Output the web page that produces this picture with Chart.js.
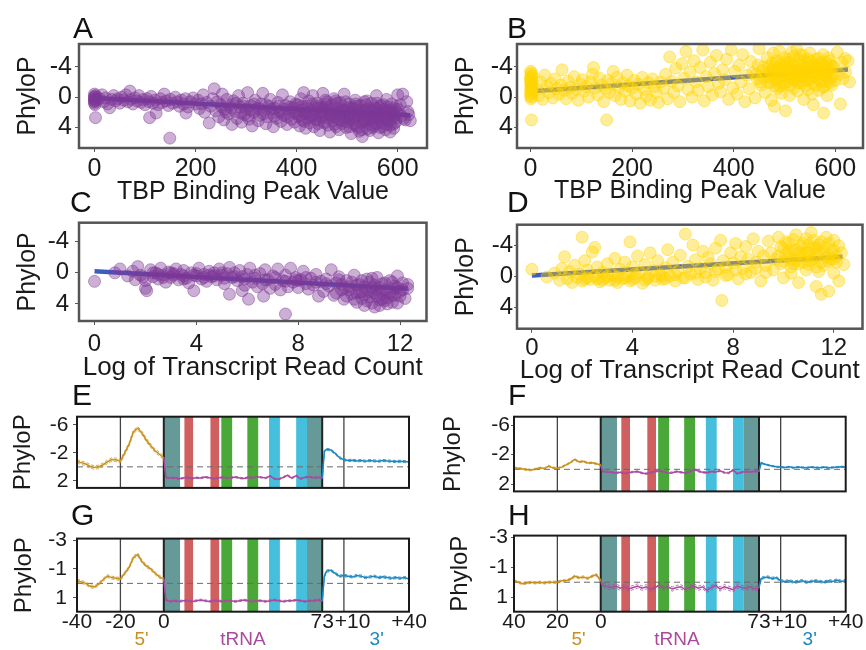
<!DOCTYPE html>
<html><head><meta charset="utf-8">
<script src="https://cdn.jsdelivr.net/npm/chart.js@4.4.1/dist/chart.umd.min.js"></script>
<style>
html,body{margin:0;padding:0;background:#fff;}
#wrap{position:relative;width:866px;height:650px;overflow:hidden;font-family:"Liberation Sans",Arial,sans-serif;}
canvas{position:absolute;}
.lbl{position:absolute;font-size:30px;line-height:30px;color:#111;}
.reg{position:absolute;font-size:19px;line-height:20px;transform:translateX(-50%);white-space:nowrap;}
</style></head><body><div id="wrap">
<canvas id="cA" width="433" height="207" style="left:0;top:0"></canvas>
<canvas id="cB" width="433" height="206" style="left:433px;top:0"></canvas>
<canvas id="cC" width="433" height="188" style="left:0;top:195px"></canvas>
<canvas id="cD" width="433" height="191" style="left:433px;top:195px"></canvas>
<canvas id="cE" width="433" height="110" style="left:0;top:395px"></canvas>
<canvas id="cF" width="433" height="110" style="left:433px;top:395px"></canvas>
<canvas id="cG" width="433" height="112" style="left:0;top:520px"></canvas>
<canvas id="cH" width="433" height="112" style="left:433px;top:520px"></canvas>
<div class="lbl" style="left:73px;top:13px">A</div>
<div class="lbl" style="left:507px;top:13px">B</div>
<div class="lbl" style="left:70px;top:187px">C</div>
<div class="lbl" style="left:507px;top:187px">D</div>
<div class="lbl" style="left:72px;top:380px">E</div>
<div class="lbl" style="left:508px;top:380px">F</div>
<div class="lbl" style="left:71px;top:500px">G</div>
<div class="lbl" style="left:508px;top:500px">H</div>
<div id="regions"></div>
</div>
<script>
// ---------------- tick labels / categories ----------------
const peakTicks = [0, 200, 400, 600];
const readTicks = [0, 4, 8, 12];
const phyloTicksScatter = [-4, 0, 4];
const phyloTicksEF = [-6, -2, 2];
const phyloTicksGH = [-3, -1, 1];
const posTicks = [-40, -20, 0, 73, 83, 113];
const posLabelsG = ['-40', '-20', '0', '73', '   +10', '+40'];
const posLabelsH = ['40', '20', '0', '73', '   +10', '+40'];
const regionNames = ["5'", "tRNA", "3'"];

// tRNA secondary-structure stems (positions)
const stemFrom = [0, 9.5, 21.5, 26.5, 38.5, 48.5, 61, 66];
const stemTo   = [7.5, 13.5, 25.5, 31.5, 43.5, 53.5, 66, 73];
const stemKind = ['acceptor', 'D', 'D', 'anticodon', 'anticodon', 'T', 'T', 'acceptor'];
const sepPos = [-20, 0, 73, 83];

// ---------------- scatter data: [x, PhyloP] ----------------
const peakVsPhyloA = [
[0,-0.4],[0,-0.1],[0,0.2],[0,0.5],[0,0.8],[0,0.3],[0,0],[0,0.6],[2,-0.2],[3,0.4],[1,1.0],[4,0.1],[2,2.7],
[10,0.2],[15,-0.3],[18,0.6],[22,0.1],[26,0.9],[30,1.4],[34,0.3],[38,-0.2],[42,0.5],[46,0.2],[50,0.8],[54,0.0],[58,0.4],[62,-0.3],[66,0.6],[70,-0.8],[72,0.3],[76,0.9],[80,0.1],[84,0.5],[88,-0.2],[92,0.7],[96,0.3],[100,1.0],[104,0.2],[108,0.6],[109,2.7],[112,-0.1],[116,0.8],[120,0.4],[122,2.1],[126,1.0],[130,0.2],[134,0.7],[138,-0.4],[142,0.5],[146,1.1],[149,5.4],[150,0.3],[155,0.8],[160,0.0],[164,0.6],[168,1.2],[172,0.4],[176,0.9],[180,0.2],[181,2.1],[185,1.3],[190,0.6],[195,0.1],[200,0.9],
[205,0.4],[208,1.5],[212,0.9],[215,-0.3],[218,2.0],[222,0.7],[227,3.4],[230,1.2],[234,0.2],[237,-1.1],[240,1.8],[243,0.6],[246,2.6],[250,1.0],[253,-0.4],[256,3.0],[258,1.6],[262,0.3],[265,2.2],[268,1.0],[272,3.6],[275,0.5],[278,1.9],[282,2.8],[285,-0.2],[288,1.3],[291,3.3],[294,0.8],[297,2.3],[300,1.6],[303,-0.6],[306,2.9],[309,1.1],[312,3.8],[315,2.0],[318,0.4],[321,1.5],[324,3.1],[327,2.4],[330,0.9],[333,-0.5],[336,1.8],[339,3.5],[342,2.6],[345,1.2],[348,0.3],[351,2.1],[354,3.9],[357,1.5],[360,2.8],[363,0.7],[366,1.9],[369,3.2],[372,-0.3],[375,2.4],[378,1.1],[381,3.6],[384,2.0],[387,0.6],[390,2.9],[393,1.4],[396,3.3],[399,2.2],
[402,1.0],[404,2.6],[406,3.8],[408,0.2],[410,1.7],[412,3.0],[414,-0.6],[416,2.2],[418,4.1],[420,1.2],[422,2.8],[424,0.5],[426,3.4],[428,1.8],[430,2.5],[432,-0.2],[434,3.9],[436,1.4],[438,2.9],[440,0.8],[442,3.5],[444,2.0],[446,4.4],[448,1.1],[450,2.7],[452,-0.5],[454,3.2],[456,1.6],[458,2.3],[460,0.6],[462,3.7],[464,1.9],[466,4.6],[468,2.5],[470,1.0],[472,3.1],[474,0.2],[476,2.1],[478,3.9],[480,1.5],[482,2.9],[484,4.3],[486,0.7],[488,2.4],[490,3.5],[492,1.2],[494,-0.4],[496,2.8],[498,4.0],[500,1.8],[502,3.3],[504,0.9],[506,2.2],[508,4.8],[510,1.4],[512,3.0],[514,2.6],[516,0.4],[518,3.8],[520,1.9],[522,2.4],[524,4.5],[526,1.1],[528,3.4],[530,5.2],[532,2.0],[534,0.6],[536,3.1],[538,2.7],[540,4.2],[542,1.5],[544,3.6],[546,2.3],[548,0.8],[550,4.0],[552,1.7],[554,2.9],[556,3.5],[558,-0.2],[560,2.4],[562,4.7],[564,1.3],[566,3.2],[568,2.0],[570,3.9],[572,1.0],[574,2.6],[576,4.3],[578,0.3],[580,3.0],[582,1.8],[584,2.5],[586,3.7],[588,0.9],[590,2.2],[592,4.1],[594,1.5],[596,3.3],[598,2.7],[600,-0.3],[600,1.6],
[445,1.5],[465,2.2],[485,1.9],[505,2.5],[515,1.6],[525,2.2],[535,1.7],[545,2.8],[555,2.1],[565,2.6],[575,1.9],[585,2.0],[595,2.4],[455,1.3],[475,2.6],[495,1.7],[535,3.0],[555,1.4],
[605,1.0],[610,-0.4],[612,2.8],[615,3.0],[618,0.6],[620,1.9],[622,2.3],[625,3.1],[608,2.5],
[403,1.8],[407,2.4],[411,1.2],[415,3.2],[419,2.0],[423,1.5],[427,2.6],[431,0.9],[435,2.2],[439,3.0],[443,1.3],[447,2.5],[451,1.9],[455,3.4],[459,1.0],[463,2.8],[467,1.6],[471,2.3],[475,3.6],[479,0.8],[483,2.0],[487,3.1],[491,1.7],[495,2.5],[499,3.2],[503,1.4],[507,2.9],[511,2.1],[515,3.6],[519,1.2],[523,2.7],[527,1.8],[531,3.3],[533,2.5],[537,1.0],[541,2.2],[543,3.0],[547,1.9],[551,2.7],[553,3.8],[557,1.5],[561,2.9],[563,2.2],[567,1.1],[569,3.4],[571,2.4],[573,1.6],[577,2.8],[579,3.6],[581,1.3],[583,2.2],[587,3.0],[589,1.8],[591,2.6],[593,3.5],[597,1.2],[599,2.0],[497,0.6],[517,0.9],[539,0.5],[559,0.8],[457,0.4],[477,0.5],[521,4.0],[545,4.4],[505,3.9],[565,4.0],[585,4.6],[529,4.3],
[252,1.3],[260,2.0],[270,1.4],[280,0.8],[290,2.1],[296,1.2],[304,2.5],[310,1.7],[316,0.9],[326,1.5],[334,2.2],[340,1.0],[350,1.6],[356,2.5],[364,1.2],[370,2.1],[376,1.6],[382,2.6],[388,1.3],[394,2.0],[398,0.9]
];
const peakVsPhyloB = [
[0,-3.4],[1,-3.0],[2,-2.6],[3,-2.2],[0,-1.8],[1,-1.4],[2,-1.0],[3,-0.6],[0,-0.2],[1,0.2],[2,-3.2],[3,-2.8],[0,-2.4],[1,-2.0],[2,-1.6],[3,-1.2],[0,-0.8],[1,-0.4],[2,0.0],[3,-1.9],[0,-2.5],[1,-1.1],[2,3.0],
[12,-1.0],[16,-0.2],[20,-2.0],[24,0.3],[28,-2.9],[32,-1.4],[36,-0.6],[40,-1.8],[44,0.1],[48,-2.4],[52,-1.1],[56,-0.4],[60,-1.6],[62,-3.6],[66,-0.9],[70,0.2],[74,-2.1],[78,-1.3],[82,-0.5],[86,-2.7],[90,-1.0],[94,0.4],[98,-1.7],[102,-2.3],[106,-0.8],[110,-1.4],[114,0.0],[118,-2.0],[122,-3.0],[124,-3.9],[128,-1.2],[132,-0.3],[136,-2.5],[140,-1.6],[144,0.6],[148,-1.1],[150,3.0],[152,-2.2],[156,-0.6],[160,-1.8],[163,-3.4],[166,-0.2],[170,-2.6],[174,-1.3],[178,0.3],[182,-1.9],[186,-0.8],[190,-2.9],[192,-1.5],[196,0.5],[200,-1.2],[204,-2.2],[208,-0.4],[212,-1.7],[216,0.8],[220,-2.6],[224,-1.0],[228,-0.1],[232,-1.9],[236,0.4],[240,-2.4],[244,-1.4],[248,-0.6],[252,0.7],[256,-2.0],
[262,-1.2],[266,-3.0],[270,0.2],[274,-5.3],[278,-2.1],[282,-0.6],[286,-3.8],[290,-1.5],[294,0.6],[298,-4.4],[302,-2.5],[306,-6.0],[310,-1.0],[314,-3.3],[318,0.0],[322,-4.8],[326,-2.0],[330,-0.9],[334,-3.9],[339,-6.2],[342,0.5],[346,-2.7],[350,-1.4],[354,-4.6],[358,-0.3],[362,-3.1],[366,-5.5],[370,-1.8],[374,-0.7],[378,-3.6],[382,-2.3],[386,-5.0],[390,0.3],[395,-6.2],[398,-1.2],[402,-3.4],[406,-0.4],[410,-4.2],[414,-2.0],[418,-5.6],[422,0.6],[426,-2.9],[430,-1.1],[434,-4.7],[438,-3.2],[442,0.1],[446,-2.4],[450,-6.4],[454,-1.6],[458,-4.0],[462,-0.6],
[464,-3.0],[466,-5.2],[468,-1.9],[470,-4.1],[472,-2.6],[474,0.4],[476,-3.6],[478,-5.8],[480,1.2],[482,-2.2],[484,-4.5],[486,-1.1],[488,-3.3],[490,-6.0],[492,-2.8],[494,-0.5],[496,-4.0],[498,-1.6],[500,-5.2],[502,1.8],[504,-3.0],[506,-2.0],[508,-4.6],[510,-0.2],[512,-3.6],[514,-5.9],[516,-2.4],[518,-1.2],[520,-4.2],[522,-3.0],[524,-6.3],[526,-0.8],[528,-2.6],[530,-4.9],[532,-3.5],[534,-1.8],[536,-5.5],[538,0.3],[540,-3.9],[542,-2.2],[544,-4.5],[546,-1.0],[548,-3.2],[550,-5.8],[552,-2.7],[554,-0.4],[556,-4.1],[557,1.0],[558,-3.4],[560,-1.6],[562,-5.0],[564,-2.5],[566,-3.8],[568,-0.9],[570,-4.6],[572,-2.0],[574,-3.1],[576,-5.6],[577,2.1],[578,-1.4],[580,-4.0],[582,-2.8],[584,-0.2],[586,-3.5],[588,-4.8],[590,-1.9],[592,-2.6],[594,-3.9],
[505,-3.3],[515,-2.9],[525,-3.6],[535,-2.8],[545,-3.4],[555,-2.5],[565,-3.1],[520,-2.2],[540,-3.9],[560,-3.5],[530,-2.6],[550,-4.0],[510,-3.8],[570,-3.3],[500,-2.9],[490,-3.6],
[600,-2.2],[604,-5.9],[608,-3.0],[610,0.9],[612,-4.6],[615,-2.4],[619,-5.1],[620,-3.3],[625,-4.8],[628,-2.0],
[471,-3.4],[473,-2.0],[475,-4.5],[477,-2.9],[479,-3.9],[481,-1.5],[483,-3.1],[485,-4.8],[487,-2.4],[489,-3.8],[491,-1.4],[493,-4.3],[495,-2.9],[497,-3.6],[499,-1.9],[501,-4.6],[503,-3.9],[507,-2.6],[509,-5.0],[511,-1.6],[513,-4.4],[517,-3.2],[519,-5.4],[521,-2.6],[523,-4.0],[527,-1.9],[529,-3.4],[531,-5.6],[533,-2.2],[535,-4.2],[537,-3.0],[539,-4.8],[541,-1.5],[543,-3.7],[547,-5.0],[549,-2.3],[551,-3.3],[553,-4.7],[555,-1.9],[559,-4.3],[561,-2.8],[563,-3.9],[567,-5.1],[569,-2.3],[571,-3.7],[573,-4.4],[575,-1.3],[579,-2.9],[581,-4.6],[583,-3.3],[585,-2.0],[587,-5.2],[589,-3.7],[591,-4.2],[593,-1.6],[595,-3.0],[597,-4.0],[460,-2.6],[456,-3.5],[452,-2.0],[448,-4.2],[444,-3.0]
];
const readVsPhyloC = [
[0,1.1],[0.8,0.0],[1.0,-0.5],[1.3,0.4],[1.5,-0.2],[1.6,0.9],[1.7,-0.8],[1.8,0.3],[2.0,1.0],[2.05,2.3],[2.0,2.0],[2.2,-0.4],[2.3,0.5],[2.4,0.0],[2.5,0.8],[2.6,-0.6],[2.7,0.3],[2.8,1.2],[2.9,-0.1],[3.0,0.6],[3.1,0.1],[3.2,-0.5],[3.3,0.9],[3.4,0.2],[3.5,-0.3],[3.6,0.7],[3.7,1.3],[3.8,0.0],[3.9,2.3],[4.0,0.4],[4.1,-0.6],[4.2,0.8],[4.3,0.2],[4.4,1.1],[4.5,-0.2],[4.6,0.5],[4.7,0.0],[4.8,0.9],[4.9,-0.5],[5.0,0.3],[5.1,1.4],[5.2,0.1],[5.3,2.75],[5.3,-0.7],[5.4,0.6],[5.5,0.0],[5.6,1.0],[5.7,-0.3],[5.8,2.3],[5.8,0.5],[5.9,1.6],[6.05,3.4],[6.0,0.2],[6.1,-0.6],[6.2,1.2],[6.3,0.7],[6.4,1.8],[6.5,0.1],[6.64,3.0],[6.6,1.4],[6.7,-0.4],[6.8,0.9],[6.9,2.0],[7.0,0.4],[7.1,1.5],[7.2,-0.5],[7.3,2.2],[7.4,1.0],[7.5,5.3],[7.5,0.3],[7.6,1.8],[7.7,-0.6],[7.8,1.2],[7.9,0.6],[8.0,1.9],[8.1,0.9],[8.2,-0.2],[8.3,1.4],[8.4,2.1],[8.5,0.7],[8.6,1.6],[8.8,3.0],[8.7,0.2],[8.9,1.1],[9.0,2.4],[9.1,0.8],[9.2,1.7],[9.3,-0.4],[9.4,2.9],[9.5,1.3],[9.6,0.5],[9.7,2.2],[9.8,3.4],[9.9,1.0],[10.0,1.8],[10.1,2.7],[10.2,0.3],[10.3,3.8],[10.4,1.5],[10.5,2.4],[10.6,4.2],[10.7,0.8],[10.8,3.1],[10.9,1.9],[11.0,4.4],[11.0,2.6],[11.1,0.6],[11.2,3.5],[11.3,1.4],[11.4,2.2],[11.5,4.0],[11.6,1.0],[11.7,2.9],[11.8,1.7],[11.9,3.9],[11.9,0.4],[12.0,2.4],[12.1,1.3],[12.2,3.3],[12.3,1.5],[12.3,2.0],
[10.0,2.2],[10.3,1.6],[10.6,2.8],[10.9,2.3],[11.2,1.9],[11.5,2.5],[11.8,2.0],[10.5,3.3],[11.1,3.0],[11.4,3.6],[10.8,1.2],[9.8,2.0],
[2.5,0.2],[3.0,0.0],[3.5,0.4],[4.0,0.1],[4.5,0.3],[5.0,0.0],
[9.5,2.6],[9.7,1.5],[9.9,3.0],[10.1,1.2],[10.2,3.4],[10.4,2.5],[10.5,1.0],[10.7,3.6],[10.8,2.4],[10.9,3.9],[11.0,1.6],[11.1,2.1],[11.2,4.2],[11.3,2.7],[11.4,1.3],[11.5,3.2],[11.6,2.6],[11.7,3.8],[11.8,2.9],[11.9,1.9],[12.0,3.0],[12.1,2.2],[10.6,1.8],[11.3,3.4],[10.3,2.6],[9.6,0.9],[10.9,0.7],[11.7,1.2],
[1.9,0.5],[2.3,0.0],[2.7,0.6],[3.1,0.3],[3.5,0.8],[3.9,0.3],[4.3,0.6],[4.7,0.4],[5.1,0.7],[5.5,0.5],[5.9,0.8],[6.3,0.3],[6.7,0.9],[7.1,0.6],[7.5,1.1],[7.9,0.9],[8.3,0.6],[8.7,1.2],[9.1,1.4],[8.0,1.0]
];
const readVsPhyloD = [
[0.0,-0.9],[0.6,0.1],[0.9,-0.4],[1.1,0.5],[1.2,-1.0],[1.3,-2.5],[1.4,0.3],[1.5,-0.6],[1.6,0.8],[1.7,-1.4],[1.8,0.2],[1.9,-0.3],[2.0,-5.0],[2.0,0.6],[2.1,-2.0],[2.2,-0.8],[2.3,0.4],[2.4,-3.1],[2.5,-3.7],[2.5,0.0],[2.6,-1.2],[2.7,0.7],[2.8,-0.5],[2.9,0.2],[3.0,-1.6],[3.1,0.5],[3.2,-0.2],[3.3,-2.3],[3.4,0.8],[3.5,-0.9],[3.6,0.3],[3.7,-1.8],[3.8,0.0],[3.9,-4.4],[3.9,0.6],[4.0,-1.2],[4.1,0.2],[4.2,-2.6],[4.3,-0.5],[4.4,0.9],[4.5,-1.5],[4.6,0.1],[4.7,-3.0],[4.8,-0.7],[4.9,0.5],[5.0,-2.0],[5.1,-0.2],[5.2,0.4],[5.3,-1.1],[5.4,-3.4],[5.5,0.0],[5.6,-1.8],[5.7,0.6],[5.8,-0.6],[5.9,-2.7],[6.0,0.2],[6.1,-5.4],[6.2,-1.3],[6.3,-0.3],[6.4,-4.0],[6.5,-2.1],[6.6,0.4],[6.7,-1.0],[6.8,-3.2],[6.9,-0.5],[7.0,-2.4],[7.1,-1.6],[7.2,0.5],[7.3,-3.6],[7.4,-0.9],[7.5,-4.6],[7.55,3.1],[7.6,-2.0],[7.7,-1.2],[7.8,-0.2],[7.9,-3.0],[8.0,-1.7],[8.1,-4.2],[8.2,0.3],[8.3,-2.5],[8.4,-1.0],[8.5,-3.8],[8.6,-2.2],[8.7,-0.5],[8.8,-4.8],[8.9,-1.8],[9.0,-3.2],[9.1,0.6],[9.2,-2.6],[9.3,-1.4],[9.4,-4.5],[9.5,-3.0],[9.6,-0.8],[9.7,-2.2],[9.8,-5.0],[9.9,-1.6],[10.0,-3.6],[10.0,0.2],[10.1,-2.8],[10.2,-4.2],[10.3,-1.2],[10.4,-3.3],[10.5,-5.3],[10.5,-2.0],[10.6,0.8],[10.7,-3.9],[10.8,-2.5],[10.9,-4.8],[11.0,-1.5],[11.0,-3.0],[11.1,-5.6],[11.2,-2.2],[11.3,1.3],[11.3,-3.7],[11.4,-0.6],[11.5,-4.4],[11.5,2.3],[11.6,-2.8],[11.7,-5.0],[11.8,-1.9],[11.8,1.9],[11.9,-3.4],[12.0,-0.4],[12.0,-4.6],[12.1,-2.6],[12.2,0.6],[12.3,-3.0],[12.4,-1.5],
[10.2,-2.4],[10.6,-3.0],[11.0,-2.5],[11.4,-3.2],[11.8,-2.6],[10.4,-1.6],[10.8,-1.8],[11.2,-3.6],[11.6,-1.4],[12.0,-2.2],
[2.2,0.2],[2.8,0.5],[3.4,0.1],[4.0,0.4],[4.6,0.3],[5.2,0.0],
[9.8,-2.6],[9.9,-3.8],[10.0,-1.9],[10.1,-4.4],[10.2,-3.2],[10.3,-2.1],[10.4,-4.7],[10.5,-3.4],[10.6,-1.6],[10.7,-2.9],[10.8,-4.2],[10.9,-3.1],[11.0,-4.0],[11.1,-2.0],[11.2,-4.6],[11.3,-2.6],[11.4,-4.0],[11.5,-1.8],[11.6,-3.6],[11.7,-2.4],[11.8,-4.2],[11.9,-2.2],[12.0,-3.3],[12.1,-1.8],[12.2,-3.9],[10.9,-0.8],[11.3,-1.2],[10.3,-0.4],
[2.1,0.4],[2.6,0.3],[3.0,0.0],[3.3,0.5],[3.7,0.2],[4.1,-0.3],[4.5,0.5],[4.9,0.0],[5.3,0.3],[5.7,-0.2],[6.1,0.2],[6.5,-0.4],[6.9,0.1],[7.3,-0.6],[7.7,-0.1],[8.1,-0.8],[8.5,-0.3],[8.9,-1.0],[9.3,-0.5]
];
// regression lines (end points)
const fitA = [[0, 0.1], [625, 2.4]];
const fitB = [[10, -0.8], [625, -3.65]];
const fitC = [[0, -0.2], [12.3, 2.05]];
const fitD = [[0, -0.1], [12.35, -2.5]];

// ---------------- PhyloP profiles along the tRNA locus ----------------
const pos5 = [-40,-38,-36,-34,-32,-30,-28,-26,-24,-22,-20,-18,-16,-14,-12,-10,-8,-6,-4,-2,0];
const posT = [0,1,3,5,7,9,11,13,15,17,19,21,23,25,27,29,31,33,35,37,39,41,43,45,47,49,51,53,55,57,59,61,63,65,67,69,71,73];
const pos3 = [73,74,75,77,79,81,83,85,87,89,91,93,95,97,99,101,103,105,107,109,111,113];

const e5 = [-0.75,-0.6,-0.4,-0.1,0.1,0.0,-0.3,-0.7,-1.05,-1.0,-0.8,-2.0,-3.2,-5.0,-5.5,-4.8,-3.8,-3.0,-2.3,-1.8,-1.3];
const eT = [-1.3,1.5,1.6,1.55,1.7,1.6,1.5,1.65,1.55,1.6,1.45,1.55,1.7,1.6,1.5,1.6,1.55,1.45,1.6,1.65,1.5,1.55,1.4,1.5,1.6,1.3,1.7,1.75,1.5,1.2,1.6,1.25,1.7,1.5,1.4,1.55,1.5,1.6];
const e3 = [1.6,-2.2,-2.5,-2.4,-1.9,-1.3,-1.0,-0.9,-0.95,-0.85,-0.9,-0.8,-0.9,-0.85,-0.8,-0.9,-0.85,-0.8,-0.75,-0.8,-0.75,-0.7];
const seE = [0.25, 0.1, 0.15];

const f5 = [-0.2,-0.15,-0.05,0.05,0.1,-0.05,-0.2,-0.1,-0.45,-0.2,-0.15,-0.3,-0.6,-0.9,-1.35,-1.0,-1.1,-0.85,-0.9,-0.75,-0.6];
const fT = [-0.6,0.3,0.35,0.4,0.5,0.4,0.55,0.45,0.35,0.3,0.5,0.6,0.45,0.3,0.2,0.35,0.5,0.45,0.3,0.4,0.5,0.35,0.0,0.25,0.4,0.45,0.3,0.35,0.2,0.45,0.5,0.1,0.6,0.4,0.3,0.35,0.25,0.3];
const f3 = [0.3,-0.9,-0.75,-0.6,-0.45,-0.35,-0.3,-0.25,-0.35,-0.2,-0.3,-0.25,-0.2,-0.3,-0.25,-0.2,-0.3,-0.2,-0.25,-0.3,-0.35,-0.3];
const seF = [0.1, 0.1, 0.08];

const g5 = [-0.2,-0.1,0.0,0.2,0.25,0.05,-0.25,-0.5,-0.4,-0.35,-0.3,-0.7,-1.1,-1.8,-2.0,-1.5,-1.2,-1.0,-0.7,-0.45,-0.3];
const gT = [-0.3,1.15,1.25,1.2,1.25,1.2,1.2,1.25,1.2,1.15,1.2,1.25,1.2,1.2,1.25,1.2,1.2,1.25,1.2,1.15,1.2,1.25,1.2,1.2,1.25,1.2,1.15,1.2,1.25,1.2,1.2,1.15,1.2,1.25,1.2,1.2,1.15,1.2];
const g3 = [1.2,-0.5,-0.85,-0.9,-0.7,-0.5,-0.55,-0.5,-0.45,-0.55,-0.5,-0.4,-0.45,-0.5,-0.4,-0.45,-0.4,-0.35,-0.4,-0.35,-0.4,-0.3];
const seG = [0.1, 0.06, 0.08];

const h5 = [-0.1,0.0,0.1,0.05,0.0,0.05,0.0,0.05,0.0,0.0,0.0,-0.1,-0.1,-0.2,-0.4,-0.3,-0.35,-0.25,-0.4,-0.5,-0.1];
const hT = [-0.1,0.2,0.3,0.35,0.25,0.4,0.3,0.45,0.35,0.25,0.4,0.3,0.5,0.35,0.2,0.4,0.3,0.45,0.35,0.3,0.5,0.35,0.25,0.4,0.3,0.55,0.35,0.2,0.45,0.3,0.4,0.5,0.25,0.35,0.4,0.3,0.45,0.35];
const h3 = [0.35,-0.25,-0.3,-0.35,-0.25,-0.3,-0.1,-0.05,-0.1,0.0,-0.05,-0.1,0.0,-0.05,-0.1,-0.05,0.0,-0.1,-0.05,-0.15,-0.05,-0.1];
const seH = [0.07, 0.14, 0.08];

// ---------------- styles ----------------
const FONT = "'Liberation Sans', Arial, Helvetica, sans-serif";
const INK = '#1a1a1a';
const regionColors = ['#c8901e', '#a94a9f', '#1c86c0'];
const stemColors = {acceptor: '#669a98', D: '#d05f5f', anticodon: '#4aa838', T: '#45bfdc'};

const decoPlugin = {
  id: 'panelDeco',
  beforeDatasetsDraw(chart, args, o) {
    if (!o || !o.locus) return;
    const {ctx, chartArea: ca} = chart;
    const x = chart.scales.x, y = chart.scales.y;
    ctx.save();
    for (let i = 0; i < stemFrom.length; i++) {
      const x0 = x.getPixelForValue(stemFrom[i]), x1 = x.getPixelForValue(stemTo[i]);
      ctx.fillStyle = stemColors[stemKind[i]];
      ctx.fillRect(x0, ca.top, x1 - x0, ca.bottom - ca.top);
    }
    const y0 = y.getPixelForValue(0);
    ctx.strokeStyle = '#6a6a6a'; ctx.lineWidth = 1; ctx.setLineDash([6, 4]);
    ctx.beginPath(); ctx.moveTo(ca.left, y0); ctx.lineTo(ca.right, y0); ctx.stroke();
    ctx.setLineDash([]);
    sepPos.forEach((p, i) => {
      const xp = x.getPixelForValue(p);
      ctx.strokeStyle = (i === 1 || i === 2) ? '#222' : '#444';
      ctx.lineWidth = (i === 1 || i === 2) ? 2 : 1.3;
      ctx.beginPath(); ctx.moveTo(xp, ca.top); ctx.lineTo(xp, ca.bottom); ctx.stroke();
    });
    ctx.restore();
  },
  afterDatasetsDraw(chart, args, o) {
    const {ctx, chartArea: ca} = chart;
    ctx.save();
    ctx.strokeStyle = o.frameColor || '#555';
    ctx.lineWidth = o.frameWidth || 2;
    ctx.strokeRect(ca.left, ca.top, ca.right - ca.left, ca.bottom - ca.top);
    ctx.restore();
  }
};

function pts(pairs) { return pairs.map(p => ({x: p[0], y: p[1]})); }

function scatterSets(pairs, fit, rgb, alpha) {
  return [
    {data: pts(pairs), pointRadius: 6, pointHoverRadius: 6,
     pointBackgroundColor: 'rgba(' + rgb + ',' + alpha + ')', pointBorderColor: 'rgba(' + rgb + ',' + (alpha + 0.06) + ')',
     pointBorderWidth: 1, showLine: false, clip: 0},
    {data: pts(fit), showLine: true, pointRadius: 0, borderColor: '#3d5cc0', borderWidth: 4.5, clip: 0}
  ];
}

function profileSets(pos, vals, se, color) {
  const mean = pos.map((p, i) => ({x: p, y: vals[i]}));
  const up = pos.map((p, i) => ({x: p, y: vals[i] - se}));
  const lo = pos.map((p, i) => ({x: p, y: vals[i] + se}));
  return [
    {data: mean, showLine: true, pointRadius: 0, borderColor: color, borderWidth: 1.5, clip: 0},
    {data: up, showLine: true, pointRadius: 0, borderColor: color, borderWidth: 0.8, borderDash: [3, 2], clip: 0},
    {data: lo, showLine: true, pointRadius: 0, borderColor: color, borderWidth: 0.8, borderDash: [3, 2], clip: 0}
  ];
}

function locusSets(p5, pT, p3, se) {
  return [].concat(
    profileSets(pos5, p5, se[0], regionColors[0]),
    profileSets(posT, pT, se[1], regionColors[1]),
    profileSets(pos3, p3, se[2], regionColors[2])
  );
}

function buildPanel(s) {
  const cv = document.getElementById(s.id);
  const W = cv.width, H = cv.height, a = s.area;
  return new Chart(cv, {
    type: 'scatter',
    data: {datasets: s.datasets},
    options: {
      responsive: false, animation: false, devicePixelRatio: 1,
      events: [],
      layout: {padding: {left: 0, top: a.t, right: W - a.r, bottom: 0}, autoPadding: false},
      plugins: {legend: {display: false}, tooltip: {enabled: false},
                panelDeco: {locus: !!s.locus, frameColor: s.frameColor, frameWidth: s.frameWidth}},
      scales: {
        x: {
          type: 'linear', position: 'bottom', min: s.xMin, max: s.xMax,
          afterFit: sc => { sc.height = H - a.b; },
          afterBuildTicks: sc => { sc.ticks = s.xTicks.map(v => ({value: v})); },
          grid: {display: s.xTickLen > 0, drawOnChartArea: false, drawTicks: s.xTickLen > 0,
                 tickLength: s.xTickLen, color: '#555', lineWidth: 1},
          border: {display: false},
          ticks: {display: s.xShow, autoSkip: false, maxRotation: 0, minRotation: 0,
                  padding: s.xPad, color: INK,
                  font: {family: FONT, size: s.xTickSize, lineHeight: s.xLH || 1.2},
                  callback: (v) => s.xLabels ? s.xLabels[s.xTicks.indexOf(v)] : String(v)},
          title: {display: !!s.xTitle, text: s.xTitle || '', color: INK,
                  font: {family: FONT, size: s.xTitleSize || 25}, padding: {top: 0, bottom: 0}}
        },
        y: {
          type: 'linear', position: 'left', reverse: true, min: s.yMin, max: s.yMax,
          afterFit: sc => { sc.width = a.l; },
          afterBuildTicks: sc => { sc.ticks = s.yTicks.map(v => ({value: v})); },
          grid: {display: true, drawOnChartArea: false, drawTicks: true, tickLength: s.yTickLen,
                 color: '#555', lineWidth: 1},
          border: {display: false},
          ticks: {autoSkip: false, padding: s.yPad, color: INK,
                  font: {family: FONT, size: s.yTickSize}, callback: (v) => String(v)},
          title: {display: true, text: 'PhyloP', color: INK,
                  font: {family: FONT, size: s.yTitleSize}, padding: {top: s.yTitlePad, bottom: 0}}
        }
      }
    },
    plugins: [decoPlugin]
  });
}

const scatterCommon = {frameColor: '#555', frameWidth: 2.5, xShow: true, xTickLen: 4, yTickLen: 4,
  yTicks: phyloTicksScatter, yTitleSize: 25};

buildPanel(Object.assign({}, scatterCommon, {
  id: 'cA', area: {l: 79, t: 44, r: 427, b: 148},
  xMin: -30.7, xMax: 658, yMin: -7, yMax: 6.7, xTicks: peakTicks,
  xTickSize: 25, xPad: 2, xTitle: 'TBP Binding Peak Value', xTitleSize: 25,
  yTickSize: 25, yPad: 3, yTitlePad: 13,
  datasets: scatterSets(peakVsPhyloA, fitA, '126,56,150', 0.4)
}));
buildPanel(Object.assign({}, scatterCommon, {
  id: 'cB', area: {l: 84, t: 44, r: 430, b: 148},
  xMin: -26.6, xMax: 654.5, yMin: -7, yMax: 6.7, xTicks: peakTicks,
  xTickSize: 25, xPad: 2, xTitle: 'TBP Binding Peak Value', xTitleSize: 25,
  yTickSize: 25, yPad: 1, yTickLen: 3, yTitlePad: 18,
  datasets: scatterSets(peakVsPhyloB, fitB, '255,212,0', 0.4)
}));
buildPanel(Object.assign({}, scatterCommon, {
  id: 'cC', area: {l: 79, t: 27.7, r: 426.5, b: 126},
  xMin: -0.61, xMax: 13.04, yMin: -6.45, yMax: 6.2, xTicks: readTicks,
  xTickSize: 24, xPad: 4.5, xTitle: 'Log of Transcript Read Count', xTitleSize: 26,
  yTickSize: 24, yPad: 6, yTitlePad: 13,
  datasets: scatterSets(readVsPhyloC, fitC, '126,56,150', 0.4)
}));
buildPanel(Object.assign({}, scatterCommon, {
  id: 'cD', area: {l: 84, t: 29.7, r: 429.5, b: 133.7},
  xMin: -0.59, xMax: 13.14, yMin: -6.6, yMax: 6.7, xTicks: readTicks,
  xTickSize: 24, xPad: 1.5, xTitle: 'Log of Transcript Read Count', xTitleSize: 26,
  yTickSize: 24, yPad: 1, yTickLen: 3, yTitlePad: 18,
  datasets: scatterSets(readVsPhyloD, fitD, '255,212,0', 0.4)
}));

const locusCommon = {locus: true, frameColor: '#1a1a1a', frameWidth: 2, xMin: -40, xMax: 113,
  xTicks: posTicks, xTickLen: 0, yTitleSize: 24, yTickSize: 21};

buildPanel(Object.assign({}, locusCommon, {
  id: 'cE', area: {l: 77, t: 21.7, r: 409, b: 101}, xShow: false, xPad: 0, xTickSize: 21,
  yMin: -7.15, yMax: 3.0, yTicks: phyloTicksEF, yTickLen: 4, yPad: 4.5, yTitlePad: 9,
  datasets: locusSets(e5, eT, e3, seE)
}));
buildPanel(Object.assign({}, locusCommon, {
  id: 'cF', area: {l: 81, t: 21.7, r: 412.7, b: 101}, xShow: false, xPad: 0, xTickSize: 21,
  yMin: -7.15, yMax: 3.0, yTicks: phyloTicksEF, yTickLen: 3, yPad: 1, yTitlePad: 6,
  datasets: locusSets(f5, fT, f3, seF)
}));
buildPanel(Object.assign({}, locusCommon, {
  id: 'cG', area: {l: 77, t: 12.3, r: 409, b: 91.7}, xShow: true, xPad: 0, xTickSize: 21, xLH: 1,
  xLabels: posLabelsG,
  yMin: -3.1, yMax: 1.96, yTicks: phyloTicksGH, yTickLen: 4, yPad: 6, yTitlePad: 9.6,
  datasets: locusSets(g5, gT, g3, seG)
}));
buildPanel(Object.assign({}, locusCommon, {
  id: 'cH', area: {l: 81, t: 12.3, r: 412.7, b: 91.7}, xShow: true, xPad: 0, xTickSize: 21, xLH: 1,
  xLabels: posLabelsH,
  yMin: -3.1, yMax: 1.96, yTicks: phyloTicksGH, yTickLen: 3, yPad: 3, yTitlePad: 13,
  datasets: locusSets(h5, hT, h3, seH)
}));

// region names under the G and H axes
const regionX = [[141.5, 243, 376.7], [578.5, 677, 809.7]];
const regBox = document.getElementById('regions');
regionX.forEach(row => row.forEach((xc, i) => {
  const d = document.createElement('div');
  d.className = 'reg';
  d.style.left = xc + 'px';
  d.style.top = '629px';
  d.style.color = regionColors[i];
  d.textContent = regionNames[i];
  regBox.appendChild(d);
}));
</script>
</body></html>
